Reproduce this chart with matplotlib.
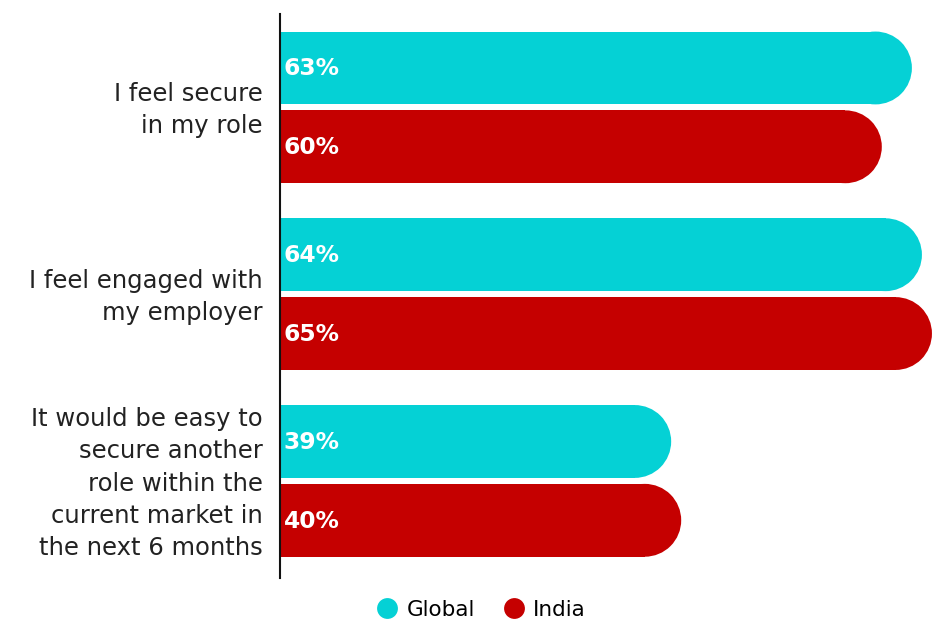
import matplotlib.pyplot as plt
from matplotlib.patches import Ellipse
from matplotlib.lines import Line2D
import numpy as np

plt.rcParams['font.family'] = ['DejaVu Sans']

categories = [
    'I feel secure\nin my role',
    'I feel engaged with\nmy employer',
    'It would be easy to\nsecure another\nrole within the\ncurrent market in\nthe next 6 months',
]
series = ['Global', 'India']
global_vals = [63, 64, 39]
india_vals = [60, 65, 40]
colors = {'Global': '#05D1D5', 'India': '#C50000'}

W, H = 951, 624
fig = plt.figure(figsize=(W / 100, H / 100), dpi=100)
ax = fig.add_axes([280 / W, 1 - 578 / H, 1 - 280 / W, (578 - 14) / H])

xmax = (W - 280) / 10.03
ax.set_xlim(0, xmax)
ax.set_ylim(2.52, -0.5)

bar_h = 0.39
offset = 0.211
y = np.arange(len(categories))

# pixel scale, so the rounded caps come out as half-circles
ax_w_px = (W - 280)
ax_h_px = 578 - 14
px_per_x = ax_w_px / xmax
px_per_y = ax_h_px / 3.02
r_px = bar_h * px_per_y / 2
r_x = r_px / px_per_x

for name, vals, off in [('Global', global_vals, -offset), ('India', india_vals, offset)]:
    for yi, v in zip(y, vals):
        yc = yi + off
        ax.barh(yc, v - r_x, height=bar_h, color=colors[name], linewidth=0)
        ax.add_patch(Ellipse((v - r_x, yc), 2 * r_x, bar_h,
                             facecolor=colors[name], edgecolor='none'))
        ax.text(0.35, yc + 0.005, f'{v}%', color='white', fontsize=16.8,
                fontweight='bold', va='center', ha='left')

for yi, label in zip(y, categories):
    ax.text(-1.75, yi + 0.015, label, ha='right', va='center', fontsize=17.5,
            color='#222222', linespacing=1.44)

for s in ['top', 'right', 'bottom']:
    ax.spines[s].set_visible(False)
ax.spines['left'].set_linewidth(1.5)
ax.spines['left'].set_color('#111111')
ax.set_xticks([])
ax.set_yticks([])

handles = [Line2D([], [], marker='o', linestyle='none', markersize=15,
                  markerfacecolor=colors[s], markeredgecolor='none') for s in series]
fig.legend(handles, series, loc='center', bbox_to_anchor=(476 / W, 1 - 610 / H),
           ncol=2, frameon=False, fontsize=15.5, handletextpad=-0.1,
           columnspacing=0.8)

fig.savefig('out.png', dpi=100)
